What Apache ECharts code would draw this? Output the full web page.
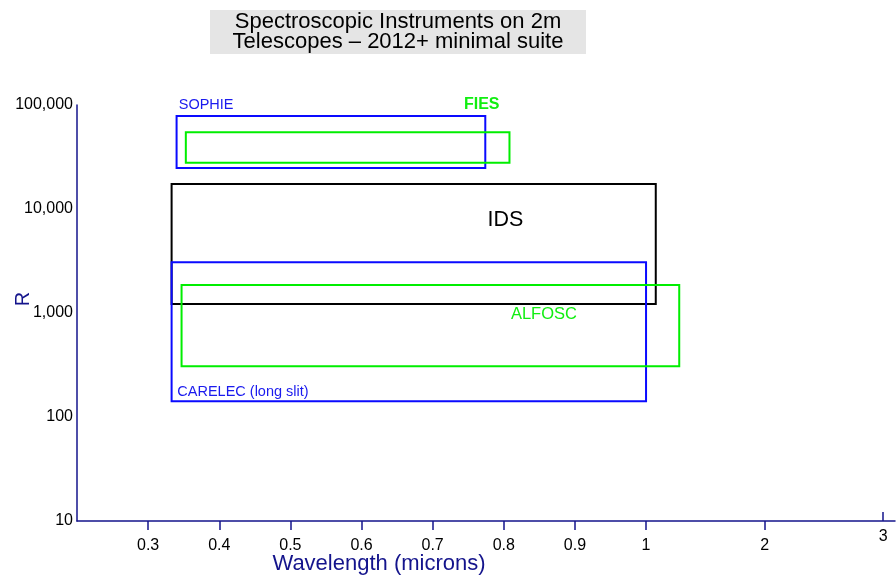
<!DOCTYPE html>
<html>
<head>
<meta charset="utf-8">
<script src="https://cdn.jsdelivr.net/npm/echarts@6/dist/echarts.min.js"></script>
<style>
html,body{margin:0;padding:0;background:#fff;}
#chart{width:896px;height:579px;}
</style>
</head>
<body>
<div id="chart"></div>
<script>
// ---- data ----
const instruments = ['SOPHIE', 'FIES', 'IDS', 'CARELEC (long slit)', 'ALFOSC'];
const wavelengthMin = [0.340, 0.353, 0.333, 0.333, 0.347];
const wavelengthMax = [0.774, 0.808, 1.082, 1.000, 1.280];
const resolutionMin = [24800, 27900, 1220, 142, 307];
const resolutionMax = [78300, 54700, 17400, 3080, 1860];
const labelWavelength = [0.343, 0.744, 0.777, 0.341, 0.810];
const labelResolution = [100000, 100000, 7830, 175, 977];
const xTickLabels = [0.3, 0.4, 0.5, 0.6, 0.7, 0.8, 0.9, 1, 2, 3];
const yTickLabels = [10, 100, 1000, 10000, 100000];

// ---- styles ----
const strokeColors = ['#0a0aff', '#00ee00', '#000000', '#0a0aff', '#00ee00'];
const textColors = ['#1a1aee', '#11ee11', '#000000', '#1a1aee', '#11ee11'];
const textFonts = ['14.5px "Liberation Sans"', 'bold 16px "Liberation Sans"', '21.5px "Liberation Sans"', '14.5px "Liberation Sans"', '16.5px "Liberation Sans"'];
const navy = '#14148c';

// piecewise wavelength axis: linear 0.2-1.0, compressed 1-3
const RATIO = 118.5 / 71.1;
function axisPos(w) { return w <= 1 ? (w - 0.2) * 10 : 8 + (w - 1) * RATIO; }
const labelMap = {};
xTickLabels.forEach(w => { labelMap[axisPos(w).toFixed(4)] = String(w); });
const lowTicks = xTickLabels.filter(w => w < 3).map(axisPos);
const highTicks = xTickLabels.filter(w => w >= 3).map(axisPos);
function fmtX(v) { return labelMap[Number(v).toFixed(4)] || ''; }

const rectData = instruments.map((n, i) => [axisPos(wavelengthMin[i]), axisPos(wavelengthMax[i]), resolutionMin[i], resolutionMax[i], i]);
const labelData = instruments.map((n, i) => [axisPos(labelWavelength[i]), labelResolution[i], i]);

const chart = echarts.init(document.getElementById('chart'), null, {renderer: 'canvas'});
chart.setOption({
  animation: false,
  backgroundColor: '#ffffff',
  textStyle: {fontFamily: '"Liberation Sans", Arial, sans-serif'},
  grid: {left: 77, right: 1, top: 105, bottom: 58, containLabel: false, outerBoundsMode: 'none'},
  graphic: [
    {type: 'rect', left: 210, top: 10, shape: {width: 376, height: 44}, style: {fill: '#e5e5e5'}, z: 0},
    {type: 'text', x: 398, y: 32, style: {text: 'Spectroscopic Instruments on 2m\nTelescopes – 2012+ minimal suite', align: 'center', verticalAlign: 'middle', font: '22px "Liberation Sans"', lineHeight: 20.5, fill: '#000'}, z: 1}
  ],
  xAxis: [
    {
      type: 'value', min: 0, max: 11.5, position: 'bottom',
      name: 'Wavelength (microns)', nameLocation: 'middle', nameGap: 32, nameMoveOverlap: false,
      nameTextStyle: {color: navy, fontSize: 22, padding: [0, 214, 0, 0]},
      axisLine: {show: true, lineStyle: {color: navy, width: 1.5}},
      axisTick: {show: true, customValues: lowTicks, length: 9, lineStyle: {color: navy, width: 1.5}},
      axisLabel: {customValues: lowTicks, formatter: fmtX, color: '#000', fontSize: 16, margin: 17},
      splitLine: {show: false}
    },
    {
      type: 'value', min: 0, max: 11.5, position: 'bottom',
      axisLine: {show: false},
      axisTick: {show: true, inside: true, customValues: highTicks, length: 9, lineStyle: {color: navy, width: 1.5}},
      axisLabel: {customValues: highTicks, formatter: fmtX, color: '#000', fontSize: 16, margin: 8},
      splitLine: {show: false}
    }
  ],
  yAxis: {
    type: 'log', logBase: 10, min: 10, max: 100000,
    name: 'R', nameLocation: 'middle', nameGap: 44, nameMoveOverlap: false,
    nameTextStyle: {color: navy, fontSize: 20, padding: [0, 0, 0, 28]},
    axisLine: {show: true, lineStyle: {color: navy, width: 1.5}},
    axisTick: {show: false},
    axisLabel: {color: '#000', fontSize: 16, margin: 4, formatter: v => Number(v).toLocaleString('en-US')},
    splitLine: {show: false}
  },
  series: [
    {
      type: 'custom', xAxisIndex: 0, yAxisIndex: 0,
      encode: {x: [0, 1], y: [2, 3]},
      data: rectData,
      renderItem: function (params, api) {
        const i = api.value(4);
        const p1 = api.coord([api.value(0), api.value(3)]);
        const p2 = api.coord([api.value(1), api.value(2)]);
        return {type: 'rect', shape: {x: p1[0], y: p1[1], width: p2[0] - p1[0], height: p2[1] - p1[1]},
          style: {fill: 'none', stroke: strokeColors[i], lineWidth: 2}};
      }
    },
    {
      type: 'custom', xAxisIndex: 0, yAxisIndex: 0,
      encode: {x: 0, y: 1},
      data: labelData,
      renderItem: function (params, api) {
        const i = api.value(2);
        const p = api.coord([api.value(0), api.value(1)]);
        return {type: 'text', x: p[0], y: p[1],
          style: {text: instruments[i], fill: textColors[i], font: textFonts[i], align: 'left', verticalAlign: 'middle'}};
      }
    }
  ]
});
</script>
</body>
</html>
